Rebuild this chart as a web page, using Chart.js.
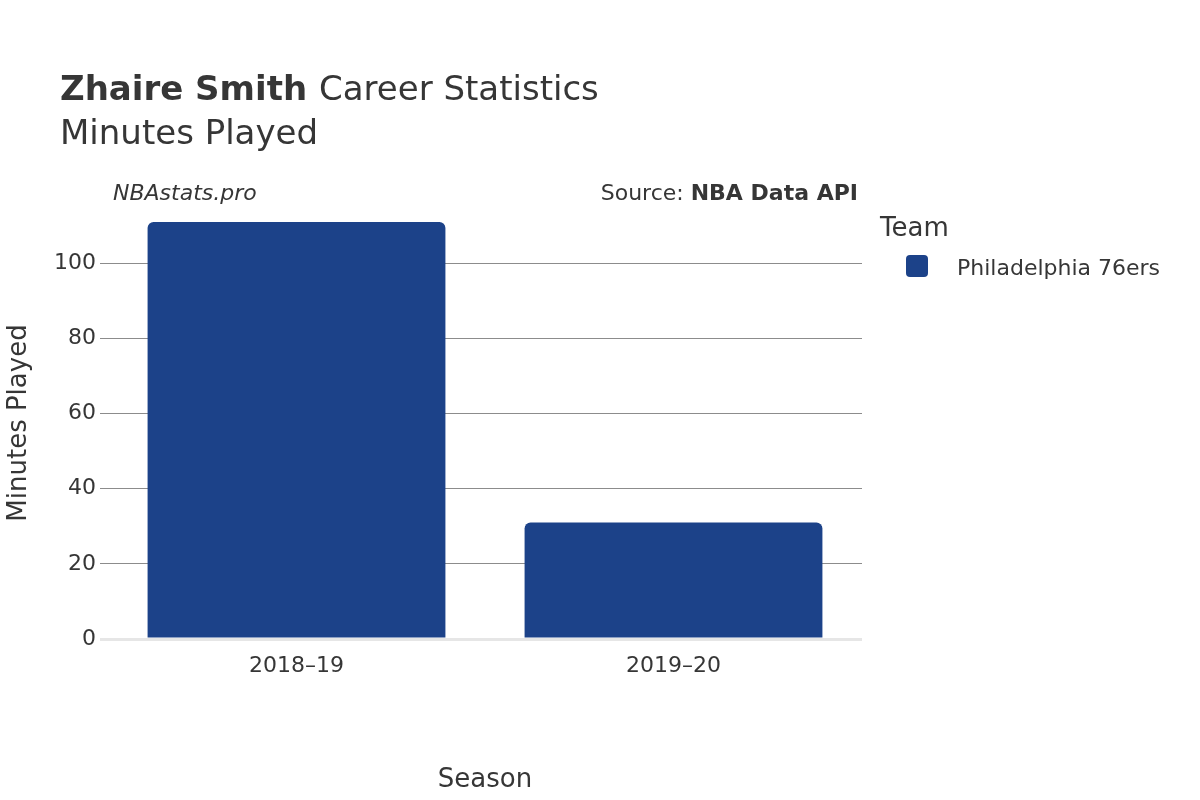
<!DOCTYPE html>
<html><head><meta charset="utf-8">
<script src="https://cdn.jsdelivr.net/npm/chart.js@4"></script>
<style>html,body{margin:0;padding:0;background:#fff}#w{width:1200px;height:800px}</style>
</head><body><div id="w"><canvas id="c" width="1200" height="800"></canvas></div>
<script>
const seasons = ["2018–19", "2019–20"];
const minutesPlayed = [111, 31];
const teamName = "Philadelphia 76ers";
const yTicks = [0, 20, 40, 60, 80, 100];
const F = "'DejaVu Sans', sans-serif";
const txt = "#363636";

const overlay = {
  id: "overlay",
  afterDraw(chart) {
    const ctx = chart.ctx;
    ctx.save();
    ctx.fillStyle = txt;
    ctx.textBaseline = "alphabetic";
    ctx.textAlign = "left";
    ctx.font = "bold 34px " + F;
    ctx.fillText("Zhaire Smith", 60, 100);
    const w = ctx.measureText("Zhaire Smith ").width;
    ctx.font = "34px " + F;
    ctx.fillText("Career Statistics", 60 + w, 100);
    ctx.fillText("Minutes Played", 60, 144);
    ctx.font = "italic 22px " + F;
    ctx.fillText("NBAstats.pro", 113, 200);
    ctx.textAlign = "right";
    ctx.font = "bold 22px " + F;
    ctx.fillText("NBA Data API", 858, 200);
    const bw = ctx.measureText("NBA Data API").width;
    ctx.font = "22px " + F;
    ctx.fillText("Source: ", 858 - bw, 200);
    ctx.textAlign = "left";
    ctx.font = "26px " + F;
    ctx.fillText("Team", 880, 236);
    ctx.fillStyle = "#1c4289";
    ctx.beginPath();
    ctx.roundRect(906, 255, 22, 22, 4);
    ctx.fill();
    ctx.fillStyle = txt;
    ctx.font = "22px " + F;
    ctx.fillText(teamName, 957, 275);
    ctx.restore();
  }
};

new Chart(document.getElementById("c"), {
  type: "bar",
  data: { labels: seasons, datasets: [{ label: teamName, data: minutesPlayed,
    backgroundColor: "#1c4289", borderRadius: 6, borderSkipped: "bottom",
    barPercentage: 0.79, categoryPercentage: 1 }] },
  options: {
    responsive: false, animation: false, devicePixelRatio: 1,
    layout: { padding: { left: 0, right: 338, top: 207, bottom: 0 } },
    plugins: { legend: { display: false }, tooltip: { enabled: false } },
    scales: {
      x: {
        afterFit(s) { s.height = 161; },
        grid: { display: false },
        border: { display: false },
        ticks: { color: txt, font: { family: F, size: 22 }, padding: 6 },
        title: { display: true, text: "Season", color: txt, font: { family: F, size: 26 }, padding: { top: 26 } }
      },
      y: {
        min: 0, max: 115,
        afterFit(s) { s.width = 108; },
        afterBuildTicks(s) { s.ticks = yTicks.map(v => ({ value: v })); },
        grid: { color: c => c.tick && c.tick.value === 0 ? "#e6e6e6" : "#8c8c8c",
                lineWidth: c => c.tick && c.tick.value === 0 ? 3 : 1, tickLength: 8 },
        border: { display: false },
        ticks: { color: txt, font: { family: F, size: 22 }, padding: 4 },
        title: { display: true, text: "Minutes Played", color: txt, font: { family: F, size: 26 }, padding: { bottom: 20 } }
      }
    }
  },
  plugins: [overlay]
});
</script></body></html>
